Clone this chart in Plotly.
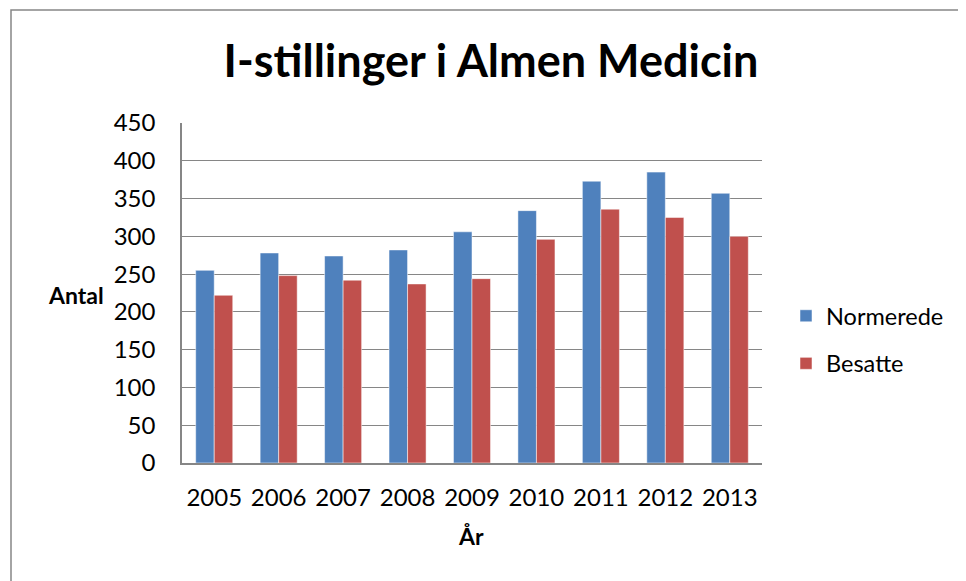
import plotly.graph_objects as go

years = ["2005", "2006", "2007", "2008", "2009", "2010", "2011", "2012", "2013"]
normerede = [255, 278, 274, 282, 306, 334, 373, 385, 357]
besatte = [222, 248, 242, 237, 244, 296, 336, 325, 300]
y_ticks = [0, 50, 100, 150, 200, 250, 300, 350, 400, 450]

FONT = "Lato"
OFF = 8  # default body margin of the html page
W, H = 966 - OFF, 581 - OFF
# plot area in page pixels
PL, PR, PT, PB = 182, 762, 123, 463
L, T = PL - OFF, PT - OFF
R, B = W - (PR - OFF), H - (PB - OFF)
PW, PH = PR - PL, PB - PT

def px_x(x):
    return (x - PL) / PW

def px_y(y):
    return (PB - y) / PH

fig = go.Figure()
fig.add_trace(go.Bar(x=years, y=normerede, name="Normerede", legendgroup="a",
                     marker=dict(color="#4F81BD", line=dict(color="rgba(255,255,255,0.5)", width=1))))
fig.add_trace(go.Bar(x=years, y=besatte, name="Besatte", legendgroup="b",
                     marker=dict(color="#C0504D", line=dict(color="rgba(255,255,255,0.5)", width=1))))

fig.update_layout(
    width=W, height=H,
    margin=dict(l=L, r=R, t=T, b=B),
    paper_bgcolor="white", plot_bgcolor="white",
    font=dict(family=FONT, size=22, color="black"),
    barmode="group", bargap=0.425, bargroupgap=0,
    title=dict(text="<b>I-stillinger i Almen Medicin</b>", font=dict(family=FONT, size=45, color="black"),
               x=px_x(491), xref="paper", xanchor="center",
               y=1 - (61 - OFF) / H, yref="container", yanchor="middle"),
    legend=dict(x=px_x(786), y=px_y(294), xanchor="left", yanchor="top", font=dict(size=23.5),
                tracegroupgap=14, bgcolor="rgba(0,0,0,0)"),
    showlegend=True,
)
fig.update_xaxes(showline=True, linecolor="#868686", linewidth=2, ticks="", showgrid=False,
                 tickfont=dict(size=24), ticklabelstandoff=12)
fig.update_yaxes(range=[0, 450], tickvals=y_ticks, showline=True, linecolor="#868686", linewidth=1.5,
                 gridcolor="#868686", gridwidth=1.3, ticks="", tickfont=dict(size=24),
                 ticklabelstandoff=20, zeroline=False)

fig.add_annotation(text="<b>Antal</b>", x=px_x(76), y=px_y(295), xref="paper", yref="paper",
                   showarrow=False, font=dict(size=23, family=FONT), xanchor="center", yanchor="middle")
fig.add_annotation(text="<b>År</b>", x=px_x(471), y=px_y(536), xref="paper", yref="paper",
                   showarrow=False, font=dict(size=23, family=FONT), xanchor="center", yanchor="middle")

fig.add_shape(type="rect", xref="paper", yref="paper",
              x0=px_x(11), x1=px_x(980), y0=px_y(595), y1=px_y(10),
              line=dict(color="#868686", width=1.5), fillcolor="rgba(0,0,0,0)", layer="below")

fig.write_html("out.html")
